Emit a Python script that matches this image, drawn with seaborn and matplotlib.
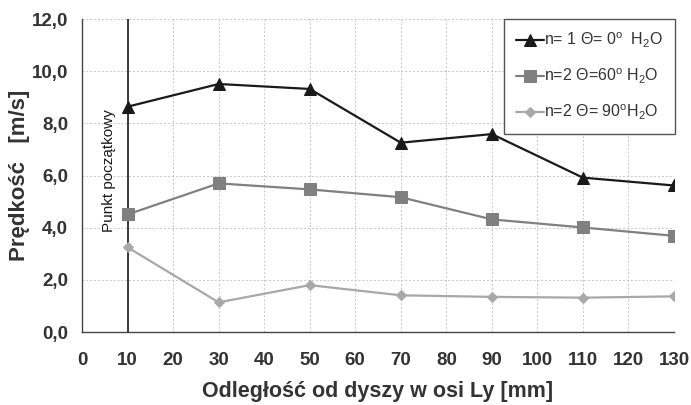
import matplotlib
matplotlib.use("Agg")
import matplotlib.pyplot as plt
import seaborn as sns
import pandas as pd
from matplotlib.ticker import FuncFormatter, MultipleLocator

distance = [10, 30, 50, 70, 90, 110, 130]
speed_n1_0 = [8.64, 9.51, 9.32, 7.26, 7.59, 5.92, 5.62]
speed_n2_60 = [4.51, 5.70, 5.47, 5.17, 4.32, 4.01, 3.69]
speed_n2_90 = [3.25, 1.14, 1.80, 1.41, 1.35, 1.32, 1.37]
labels = [r"n= 1 $\Theta$= 0$^{\mathrm{o}}$  H$_2$O",
          r"n=2 $\Theta$=60$^{\mathrm{o}}$ H$_2$O",
          r"n=2 $\Theta$= 90$^{\mathrm{o}}$H$_2$O"]
colors = ["#1a1a1a", "#808080", "#a8a8a8"]
markers = ["^", "s", "D"]
msizes = [8, 9, 5]

sns.set_theme(style="white")
plt.rcParams['font.family'] = ['Liberation Sans', 'DejaVu Sans']
plt.rcParams['mathtext.fontset'] = 'custom'
plt.rcParams['mathtext.rm'] = 'Liberation Sans'
plt.rcParams['mathtext.it'] = 'Liberation Sans'

fig = plt.figure(figsize=(6.91, 4.05), dpi=100)
ax = fig.add_axes([0.1187, 0.180, 0.8567, 0.773])

for vals, lab, c, m, ms in zip([speed_n1_0, speed_n2_60, speed_n2_90], labels, colors, markers, msizes):
    df = pd.DataFrame({"x": distance, "y": vals})
    sns.lineplot(data=df, x="x", y="y", ax=ax, color=c, marker=m, markersize=ms,
                 markeredgecolor=c, linewidth=1.6, label=lab, zorder=3)

ax.axvline(10, color="#1a1a1a", linewidth=1.2, zorder=2)
ax.text(5.9, 6.2, "Punkt początkowy", rotation=90, ha="center", va="center",
        fontsize=11, color="#1a1a1a")

ax.set_xlim(0, 130)
ax.set_ylim(0, 12)
ax.xaxis.set_major_locator(MultipleLocator(10))
ax.yaxis.set_major_locator(MultipleLocator(2))
ax.yaxis.set_major_formatter(FuncFormatter(lambda v, p: f"{v:.1f}".replace(".", ",")))
ax.grid(True, color="#c8c8c8", linestyle=(0, (2, 2)), linewidth=0.7)
for s in ["top", "right"]:
    ax.spines[s].set_visible(False)
for s in ["left", "bottom"]:
    ax.spines[s].set_color("#444444")
    ax.spines[s].set_linewidth(1.0)
ax.tick_params(axis="both", which="major", direction="out", length=5, width=1,
               color="#444444", labelsize=13.5, labelcolor="#333333")
for t in ax.get_xticklabels() + ax.get_yticklabels():
    t.set_fontweight("bold")
ax.tick_params(axis="x", pad=9)
ax.tick_params(axis="y", pad=5)

ax.set_xlabel("Odległość od dyszy w osi Ly [mm]", fontsize=15.5, fontweight="bold",
              color="#333333", labelpad=9)
ax.set_ylabel("Prędkość   [m/s]", fontsize=16, fontweight="bold", color="#333333", labelpad=1)

leg = ax.legend(loc="upper right", bbox_to_anchor=(1.002, 1.0), fontsize=11.5,
                frameon=True, fancybox=False, edgecolor="#555555", framealpha=1,
                handlelength=1.7, handletextpad=0.05, labelspacing=1.05, borderpad=0.75,
                borderaxespad=0)
leg.get_frame().set_linewidth(1.0)
for t in leg.get_texts():
    t.set_color("#333333")

fig.savefig("out.png", dpi=100)
